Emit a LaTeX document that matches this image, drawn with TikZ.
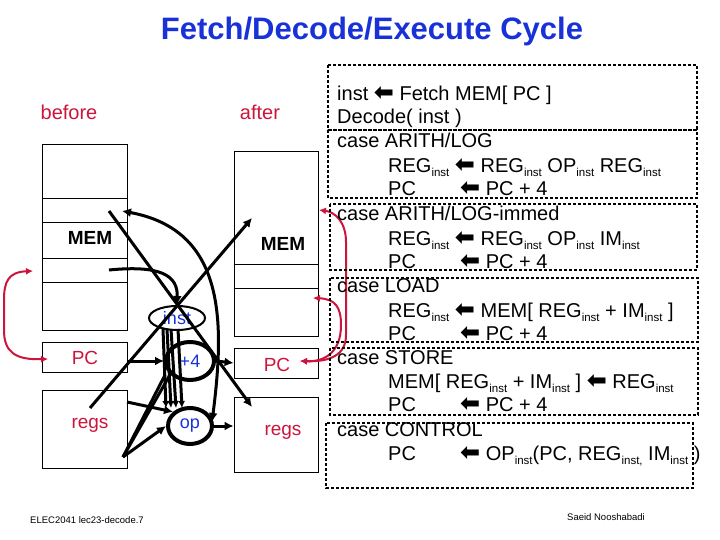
\documentclass[tikz,border=0pt]{standalone}
\usepackage{fontspec}
\setmainfont{Liberation Sans}
\newfontfamily\arrowfont{DejaVu Sans}
\usetikzlibrary{shapes.geometric,arrows.meta}
\definecolor{slidered}{RGB}{205,20,60}
\definecolor{slideblue}{RGB}{25,50,215}
\newcommand{\larr}{{\arrowfont\bfseries\fontsize{24}{20}\selectfont ⬅}}
\newcommand{\isub}[1]{\raisebox{-4pt}{\fontsize{11.5}{11.5}\selectfont #1}}

\begin{document}
\begin{tikzpicture}[x=1pt, y=-1pt,
    box/.style={draw, line width=0.8pt, inner sep=0pt},
    lbl/.style={inner sep=0pt, font=\fontsize{19}{19}\selectfont},
    redlbl/.style={lbl, text=slidered},
    oval/.style={draw, ellipse, line width=4pt, inner sep=0pt, text=slideblue, font=\fontsize{18}{18}\selectfont},
    flow/.style={line width=3pt, -{Latex[length=9pt,width=9pt]}},
    redflow/.style={draw=slidered, line width=2pt, {Latex[length=7pt,width=7pt]}-{Latex[length=7pt,width=7pt]}},
    codebox/.style={draw, line width=2.5pt, dash pattern=on 3pt off 2pt},
    code/.style={anchor=base west, inner sep=0pt, font=\fontsize{20}{20}\selectfont},
    foot/.style={anchor=west, inner sep=0pt, font=\fontsize{9.5}{9.5}\selectfont}]
\useasboundingbox (0,0) rectangle (720,540);
% Title
\node[font=\fontsize{31}{31}\selectfont\bfseries, text=slideblue] (title) at (372,31) {Fetch/Decode/Execute Cycle};
\node[redlbl, font=\fontsize{20}{20}\selectfont] (before) at (69,112) {before};
\node[redlbl, font=\fontsize{20}{20}\selectfont] (after) at (260,112) {after};
% Nodes
\node[box, minimum width=85pt, minimum height=186pt] (memL) at (84.5,237) {};
\node[box, minimum width=85pt, minimum height=30pt] (pcL) at (84.5,357) {};
\node[box, minimum width=85pt, minimum height=78pt] (regsL) at (84.5,429) {};
\node[box, minimum width=84pt, minimum height=185pt] (memR) at (276,243.5) {};
\node[box, minimum width=84pt, minimum height=30pt] (pcR) at (276,363) {};
\node[box, minimum width=84pt, minimum height=75pt] (regsR) at (276,434.5) {};
\draw[line width=0.8pt] (memL.west |- 0,198) -- (memL.east |- 0,198);
\draw[line width=0.8pt] (memL.west |- 0,222) -- (memL.east |- 0,222);
\draw[line width=0.8pt] (memL.west |- 0,258) -- (memL.east |- 0,258);
\draw[line width=0.8pt] (memL.west |- 0,282) -- (memL.east |- 0,282);
\draw[line width=0.8pt] (memR.west |- 0,264) -- (memR.east |- 0,264);
\draw[line width=0.8pt] (memR.west |- 0,288) -- (memR.east |- 0,288);
\node[lbl, font=\fontsize{19}{19}\selectfont\bfseries] (memLtxt) at (90,238) {MEM};
\node[lbl, font=\fontsize{19}{19}\selectfont\bfseries] (memRtxt) at (283,244) {MEM};
\node[redlbl] (pcLtxt) at (85,358) {PC};
\node[redlbl] (pcRtxt) at (277,365) {PC};
\node[redlbl] (regsLtxt) at (90,425) {regs};
\node[redlbl] (regsRtxt) at (283,432) {regs};
\node[oval, line width=2pt, minimum width=56pt, minimum height=24pt] (inst) at (177,318) {inst};
\node[oval, minimum width=48pt, minimum height=38pt] (plus) at (190,361) {+4};
\node[oval, minimum width=44pt, minimum height=36pt] (op) at (190,426) {op};
% Edges
\coordinate (a1) at (90,408);
\coordinate (a2) at (252,218);
\coordinate (b1) at (109,211);
\coordinate (b2) at (252,407);
\coordinate (c1) at (109,270);
\coordinate (d1) at (122,211);
\coordinate (d2) at (212,422);
\coordinate (g1) at (127,402);
\coordinate (fan) at (123,457);
\draw[flow] (a1) -- (a2);
\draw[flow] (b1) -- (b2);
\draw[flow] (c1) .. controls (160,265) and (178,275) .. (inst.north);
\draw[flow, {Latex[length=9pt,width=9pt]}-{Latex[length=9pt,width=9pt]}] (d2) .. controls (225,320) and (225,230) .. (d1);
\draw[flow] (pcL.east |- plus.west) -- (plus.west);
\draw[flow] (plus.east) -- (pcR.west);
\draw[flow] (g1) -- (op.north west);
\draw[flow] (op.east) -- (op.east -| regsR.west);
\draw[flow] (fan) -- (op.west);
\draw[line width=3pt] (fan) -- (165,375);
\draw[line width=3pt] (fan) -- (171,373);
\foreach \xa/\xb in {163/166, 167/171, 171/176, 178/182}
  \draw[flow, -{Latex[length=7pt,width=7pt]}] (\xa,329) -- (\xb,408);
% red links
\coordinate (r1) at (33,271);
\coordinate (r2) at (48,359);
\coordinate (r3) at (319,210);
\coordinate (r4) at (313,298);
\coordinate (r5) at (300,361);
\draw[redflow] (r1) .. controls (8,272) and (4,282) .. (4,300) -- (4,330) .. controls (4,352) and (15,360) .. (r2);
\draw[redflow] (r3) .. controls (335,212) and (346,222) .. (346,242) -- (346,335) .. controls (346,355) and (330,362) .. (r5);
\draw[redflow] (r4) .. controls (336,299) and (341,308) .. (341,325) .. controls (341,352) and (325,362) .. (r5);
% code
\draw[codebox] (328,65) rectangle (697,130);
\draw[codebox] (328,130) rectangle (697,198);
\draw[codebox] (330,204) rectangle (697,270);
\draw[codebox] (330,278) rectangle (698,342);
\draw[codebox] (330,348) rectangle (698,415);
\draw[codebox] (326,423) rectangle (693,488);
\node[code] (fetch) at (337,101) {inst \larr\ Fetch MEM[ PC ]};
\node[code] (decode) at (337,124) {Decode( inst )};
\node[code] (arith) at (337,148) {case ARITH/LOG};
\node[code] (arithreg) at (388,173) {REG\isub{inst} \larr\ REG\isub{inst} OP\isub{inst} REG\isub{inst}};
\node[code] (arithpc) at (388,196) {PC};
\node[code] (arithinc) at (460,196) {\larr\ PC + 4};
\node[code] (immed) at (337,221) {case ARITH/LOG-immed};
\node[code] (immedreg) at (388,245) {REG\isub{inst} \larr\ REG\isub{inst} OP\isub{inst} IM\isub{inst}};
\node[code] (immedpc) at (388,268) {PC};
\node[code] (immedinc) at (460,268) {\larr\ PC + 4};
\node[code] (load) at (337,292) {case LOAD};
\node[code] (loadreg) at (388,317) {REG\isub{inst} \larr\ MEM[ REG\isub{inst} + IM\isub{inst} ]};
\node[code] (loadpc) at (388,340) {PC};
\node[code] (loadinc) at (460,340) {\larr\ PC + 4};
\node[code] (store) at (337,364) {case STORE};
\node[code] (storemem) at (388,388) {MEM[ REG\isub{inst} + IM\isub{inst} ] \larr\ REG\isub{inst}};
\node[code] (storepc) at (388,411) {PC};
\node[code] (storeinc) at (460,411) {\larr\ PC + 4};
\node[code] (control) at (337,436) {case CONTROL};
\node[code] (controlpc) at (388,460) {PC};
\node[code] (controlop) at (460,460) {\larr\ OP\isub{inst}(PC, REG\isub{inst,} IM\isub{inst} )};
% Footer
\node[foot] (course) at (30,520) {ELEC2041 lec23-decode.7};
\node[foot] (author) at (567,517) {Saeid Nooshabadi};
\end{tikzpicture}
\end{document}
